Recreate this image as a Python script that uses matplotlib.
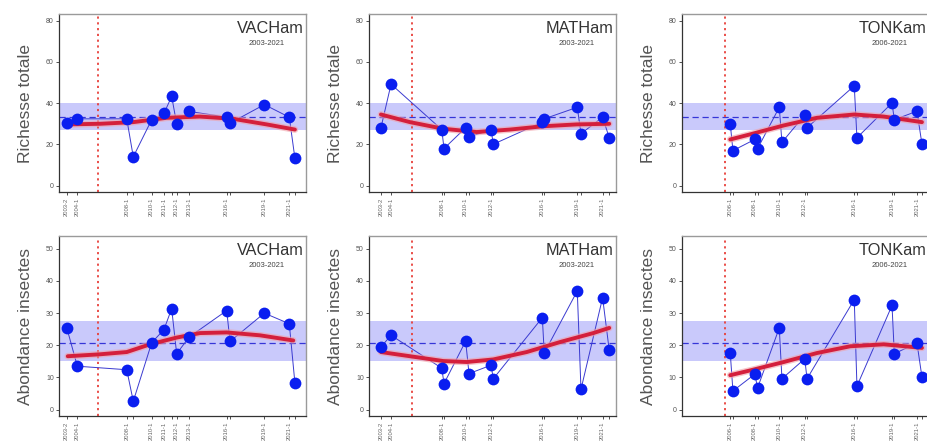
import matplotlib
matplotlib.use("Agg")
import matplotlib.pyplot as plt

W, H = 927, 448
plt.rcParams['font.family'] = ['Liberation Sans', 'DejaVu Sans']

# ---------------- data ----------------
sites = ["VACHam", "MATHam", "TONKam"]
periods = ["2003-2021", "2003-2021", "2006-2021"]
mgmt_change = [2005.45, 2005.71, 2005.78]

dates_vac = [2002.98, 2003.81, 2007.67, 2008.18, 2009.62, 2010.58, 2011.18, 2011.57,
             2012.56, 2015.48, 2015.74, 2018.42, 2020.37, 2020.81]
dates_mat = [2003.31, 2004.10, 2008.06, 2008.24, 2009.93, 2010.19, 2011.91, 2012.09,
             2015.92, 2016.07, 2018.65, 2018.94, 2020.63, 2021.15]
dates_ton = [2006.17, 2006.38, 2008.08, 2008.31, 2010.00, 2010.21, 2011.99, 2012.17,
             2015.86, 2016.07, 2018.81, 2018.99, 2020.76, 2021.15]

labels_vac = ["2003-2", "2004-1", "2008-1", "", "2010-1", "2011-1", "", "2012-1",
              "2013-1", "2016-1", "", "2019-1", "2021-1", ""]
labels_mat = ["2003-2", "2004-1", "2008-1", "", "2010-1", "", "2012-1", "",
              "2016-1", "", "2019-1", "", "2021-1", ""]
labels_ton = ["2006-1", "", "2008-1", "", "2010-1", "", "2012-1", "",
              "2016-1", "", "2019-1", "", "2021-1", ""]

rich_vac = [30.3, 32.4, 32.4, 14.0, 32.0, 35.0, 43.3, 30.0, 36.0, 33.2, 30.3, 39.3, 33.2, 13.3]
rich_mat = [28.1, 49.2, 27.2, 18.0, 28.1, 23.6, 27.2, 20.1, 30.8, 32.4, 38.0, 25.2, 33.2, 23.2]
rich_ton = [30.0, 17.0, 22.4, 18.0, 38.0, 21.0, 34.3, 28.1, 48.4, 23.2, 40.1, 32.0, 36.1, 20.1]

abond_vac = [25.5, 13.5, 12.4, 2.6, 20.8, 24.9, 31.4, 17.4, 22.6, 30.8, 21.2, 30.0, 26.7, 8.3]
abond_mat = [19.5, 23.1, 12.9, 8.1, 21.3, 11.2, 13.8, 9.6, 28.6, 17.6, 36.9, 6.3, 34.8, 18.4]
abond_ton = [17.6, 5.8, 11.0, 6.8, 25.4, 9.6, 15.8, 9.6, 34.2, 7.3, 32.4, 17.4, 20.7, 10.1]

# smoothed trend
trend_x_rich_vac = [2002.98, 2005.58, 2008.18, 2010.79, 2013.39, 2015.99, 2018.60, 2020.81]
trend_y_rich_vac = [29.7, 30.0, 30.8, 32.9, 33.5, 32.4, 29.7, 27.2]
trend_x_rich_mat = [2003.31, 2005.58, 2008.18, 2010.79, 2013.39, 2015.99, 2018.60, 2021.15]
trend_y_rich_mat = [34.5, 30.8, 27.6, 26.0, 27.2, 28.8, 29.7, 30.0]
trend_x_rich_ton = [2006.17, 2007.74, 2010.35, 2012.95, 2015.86, 2018.16, 2021.15]
trend_y_rich_ton = [22.4, 24.9, 29.2, 32.9, 34.5, 33.5, 30.8]

trend_x_ab_vac = [2003.06, 2005.58, 2007.67, 2009.49, 2011.57, 2013.39, 2015.48, 2018.08, 2020.68]
trend_y_ab_vac = [16.6, 17.2, 17.9, 20.3, 22.4, 23.8, 24.0, 23.1, 21.5]
trend_x_ab_mat = [2003.31, 2005.58, 2008.18, 2010.01, 2012.09, 2014.70, 2017.30, 2019.90, 2021.15]
trend_y_ab_mat = [17.9, 16.6, 15.1, 14.8, 15.6, 17.9, 21.0, 23.8, 25.4]
trend_x_ab_ton = [2006.17, 2007.74, 2010.35, 2012.95, 2015.55, 2018.16, 2021.15]
trend_y_ab_ton = [10.7, 12.2, 14.8, 17.6, 19.7, 20.3, 19.2]

# reference mean and band
rich_mean, rich_low, rich_high = 33.2, 26.8, 40.1
ab_mean, ab_low, ab_high = 20.8, 15.0, 27.7

ylabels = ["Richesse totale", "Abondance insectes"]
yticks_rich = [0, 20, 40, 60, 80]
yticks_ab = [0, 10, 20, 30, 40, 50]

# ---------------- layout ----------------
dates = [dates_vac, dates_mat, dates_ton]
tick_labels = [labels_vac, labels_mat, labels_ton]
rows = [
    dict(vals=[rich_vac, rich_mat, rich_ton],
         tx=[trend_x_rich_vac, trend_x_rich_mat, trend_x_rich_ton],
         ty=[trend_y_rich_vac, trend_y_rich_mat, trend_y_rich_ton],
         mean=rich_mean, lo=rich_low, hi=rich_high, yticks=yticks_rich,
         ylim=(-3.2, 83.2), top=14, bottom=192.3, label=ylabels[0]),
    dict(vals=[abond_vac, abond_mat, abond_ton],
         tx=[trend_x_ab_vac, trend_x_ab_mat, trend_x_ab_ton],
         ty=[trend_y_ab_vac, trend_y_ab_mat, trend_y_ab_ton],
         mean=ab_mean, lo=ab_low, hi=ab_high, yticks=yticks_ab,
         ylim=(-2.08, 54.08), top=235.7, bottom=416.3, label=ylabels[1]),
]
col_left = [59.3, 369.3, 682.0]
col_width = 247.0
xlim = (2002.4, 2021.7)

fig = plt.figure(figsize=(W / 100, H / 100), dpi=100)
fig.patch.set_facecolor("white")

for r, row in enumerate(rows):
    for c in range(3):
        ax = fig.add_axes([col_left[c] / W, 1 - row["bottom"] / H,
                           col_width / W, (row["bottom"] - row["top"]) / H])
        ax.set_xlim(*xlim)
        ax.set_ylim(*row["ylim"])
        ax.axhspan(row["lo"], row["hi"], color="#c9c9fb", lw=0, zorder=0)
        ax.axhline(row["mean"], color="#3535d8", lw=0.9, ls=(0, (5, 3)), zorder=1)
        ax.axvline(mgmt_change[c], color="#e8403a", lw=1.3, ls=(0, (1.2, 2.0)), zorder=1)
        ax.plot(dates[c], row["vals"][c], color="#3a3ad0", lw=0.7, zorder=2)
        ax.plot(row["tx"][c], row["ty"][c], color="#f0a0a8", lw=4.8, alpha=0.6,
                solid_capstyle="round", zorder=3)
        ax.plot(row["tx"][c], row["ty"][c], color="#d41f3c", lw=2.8,
                solid_capstyle="round", zorder=4)
        ax.scatter(dates[c], row["vals"][c], s=72, color="#0a1ef0", lw=0, zorder=5)

        ax.set_yticks(row["yticks"])
        ax.set_yticklabels([str(v) for v in row["yticks"]], fontsize=5, color="#555555")
        ax.set_xticks(dates[c])
        ax.set_xticklabels(tick_labels[c], rotation=90, fontsize=4.2, color="#666666")
        ax.tick_params(axis="both", length=2.5, width=0.6, color="#333333", pad=1.5)
        for s in ["top", "right"]:
            ax.spines[s].set_color("#9a9a9a")
            ax.spines[s].set_linewidth(1.0)
        for s in ["left", "bottom"]:
            ax.spines[s].set_color("#333333")
            ax.spines[s].set_linewidth(0.9)

        ax.set_ylabel(row["label"], fontsize=12.5, color="#555555", labelpad=9)
        ax.text(0.99, 0.916, sites[c], transform=ax.transAxes, ha="right", va="center",
                fontsize=11.7, color="#333333")
        ax.text(0.84, 0.837, periods[c], transform=ax.transAxes, ha="center", va="center",
                fontsize=5.5, color="#444444")

fig.savefig("out.png", dpi=100, facecolor="white")
